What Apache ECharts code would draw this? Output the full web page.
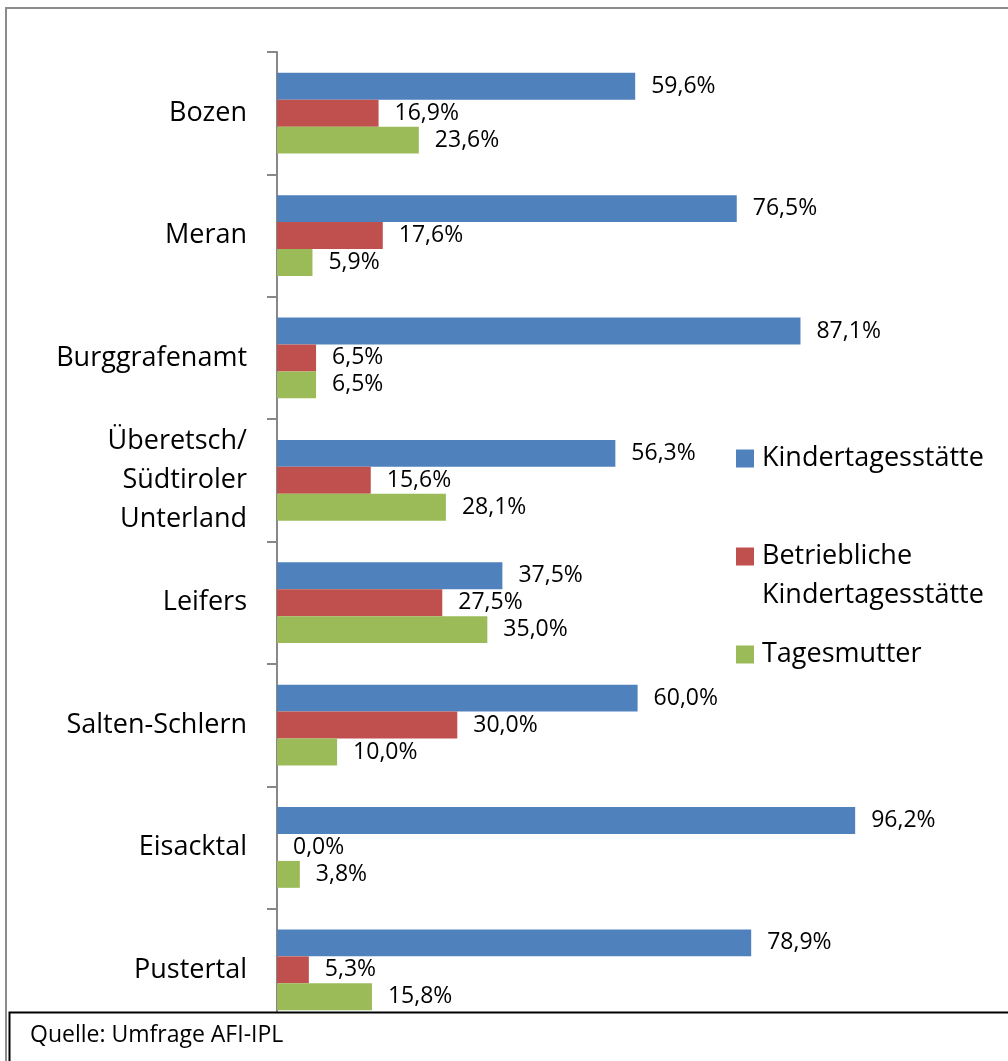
<!DOCTYPE html>
<html>
<head>
<meta charset="utf-8">
<script src="https://cdn.jsdelivr.net/npm/echarts@6/dist/echarts.min.js"></script>
<style>
  html, body { margin: 0; padding: 0; background: #fff; }
  #chart { width: 1008px; height: 1061px; }
</style>
</head>
<body>
<div id="chart"></div>
<script>
// Bezirke (von oben nach unten)
const regions = ['Bozen', 'Meran', 'Burggrafenamt', 'Überetsch/\nSüdtiroler\nUnterland', 'Leifers', 'Salten-Schlern', 'Eisacktal', 'Pustertal']
const seriesNames = ['Kindertagesstätte', 'Betriebliche Kindertagesstätte', 'Tagesmutter']
const kita = [59.6, 76.5, 87.1, 56.3, 37.5, 60.0, 96.2, 78.9]
const betrieb = [16.9, 17.6, 6.5, 15.6, 27.5, 30.0, 0.0, 5.3]
const tagesmutter = [23.6, 5.9, 6.5, 28.1, 35.0, 10.0, 3.8, 15.8]
const colors = ['#4F81BD', '#C0504D', '#9BBB59']

const font = 'Open Sans'

function makeSeries(name, data, color) {
  return {
    name: name,
    type: 'bar',
    data: data,
    barGap: '0%',
    barCategoryGap: '34%',
    itemStyle: { color: color },
    label: {
      show: true,
      position: 'right',
      distance: 16,
      color: '#000',
      fontFamily: font,
      fontSize: 23,
      formatter: (p) => p.value.toFixed(1).replace('.', ',') + '%',
    },
  }
}

let chart = echarts.init(document.getElementById('chart'))

let option = {
  animation: false,
  color: colors,
  grid: {
    left: 277,
    top: 52,
    width: 601,
    bottom: 30,
  },
  xAxis: {
    type: 'value',
    min: 0,
    max: 100,
    show: false,
  },
  yAxis: {
    type: 'category',
    data: regions,
    inverse: true,
    axisLine: { show: true, lineStyle: { color: '#888', width: 2 } },
    axisTick: { show: true, length: 10, lineStyle: { color: '#888', width: 2 } },
    axisLabel: {
      margin: 30,
      color: '#000',
      fontFamily: font,
      fontSize: 27,
      lineHeight: 39,
    },
  },
  legend: {
    orient: 'vertical',
    left: 736,
    top: 439,
    padding: 0,
    itemGap: 20,
    itemWidth: 18,
    itemHeight: 18,
    icon: 'rect',
    selectedMode: false,
    data: seriesNames,
    formatter: (name) => name === 'Betriebliche Kindertagesstätte' ? '\nBetriebliche\nKindertagesstätte' : name,
    textStyle: {
      color: '#000',
      fontFamily: font,
      fontSize: 27,
      lineHeight: 39,
      padding: [0, 0, 0, 3],
    },
  },
  graphic: [
    {
      // Rahmen
      type: 'rect',
      z: 0,
      silent: true,
      shape: { x: 6, y: 8, width: 1100, height: 1100 },
      style: { fill: 'none', stroke: '#8c8c8c', lineWidth: 2 },
    },
    {
      // Quelle
      type: 'rect',
      z: 100,
      silent: true,
      shape: { x: 9.5, y: 1012.5, width: 1100, height: 100 },
      style: { fill: '#fff', stroke: '#000', lineWidth: 2 },
    },
    {
      type: 'text',
      z: 101,
      left: 30,
      top: 1024,
      style: {
        text: 'Quelle: Umfrage AFI-IPL',
        fill: '#000',
        font: '23px "Open Sans"',
      },
    },
  ],
  series: [
    makeSeries(seriesNames[0], kita, colors[0]),
    makeSeries(seriesNames[1], betrieb, colors[1]),
    makeSeries(seriesNames[2], tagesmutter, colors[2]),
  ],
}
chart.setOption(option)
</script>
</body>
</html>
